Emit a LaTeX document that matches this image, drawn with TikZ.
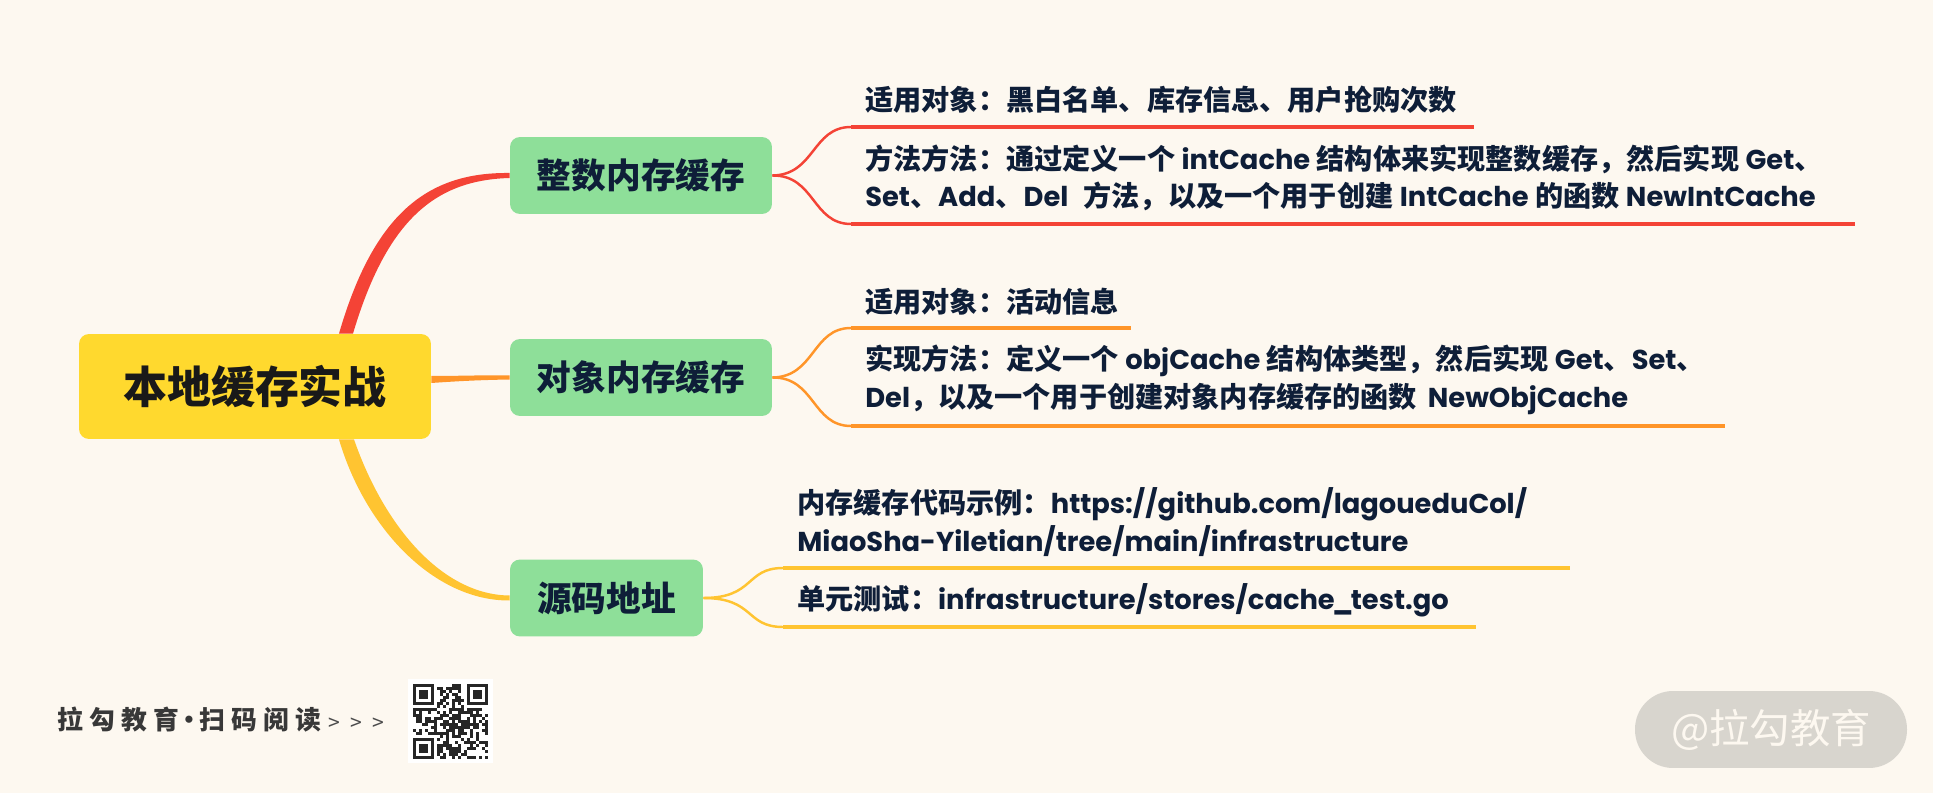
\documentclass[tikz,border=0pt]{standalone}
\usepackage{fontspec}
\setmainfont{Noto Sans CJK SC}
\newfontfamily\latfont{Poppins}[Scale=0.97]
\newcommand{\lat}[1]{{\latfont\bfseries #1}}
\definecolor{pagebg}{HTML}{FDF8F0}
\definecolor{rootfill}{HTML}{FFD92E}
\definecolor{topicfill}{HTML}{8EDF99}
\definecolor{inktext}{HTML}{0E1E38}
\definecolor{redline}{HTML}{F44336}
\definecolor{orangeline}{HTML}{FF9529}
\definecolor{yellowline}{HTML}{FFC431}
\definecolor{badgefill}{HTML}{D8D5CE}
\tikzset{
    rootbox/.style={fill=rootfill,rounded corners=0.2cm,minimum width=7.04cm,minimum height=2.1cm,font=\fontsize{25}{30}\selectfont\bfseries,text=black!90},
    topicbox/.style={fill=topicfill,rounded corners=0.2cm,minimum width=5.24cm,minimum height=1.54cm,font=\fontsize{19.75}{24}\selectfont\bfseries,text=inktext},
    leaftext/.style={anchor=west,inner sep=0pt,align=left,font=\fontsize{16.03}{21.5}\selectfont\bfseries,text=inktext},
    twig/.style={line width=1.4pt},
    under/.style={line width=2pt}
}
\begin{document}
\begin{tikzpicture}[x=0.02cm,y=-0.02cm]
    \useasboundingbox (0,0) rectangle (1933,793);
    \fill[pagebg] (0,0) rectangle (1933,793);

    \node[rootbox] (root) at (255,386.5) {本地缓存实战};
    \node[topicbox] (int) at (641,175.5) {整数内存缓存};
    \node[topicbox] (obj) at (641,377.5) {对象内存缓存};
    \node[topicbox,minimum width=3.86cm] (src) at (606.5,598) {源码地址};

    \node[leaftext] (int1) at (865,100) {适用对象：黑白名单、库存信息、用户抢购次数};
    \node[leaftext] (int2) at (865,178) {方法方法：通过定义一个 \lat{intCache} 结构体来实现整数缓存，然后实现 \lat{Get}、\\\lat{Set}、\lat{Add}、\lat{Del}\kern5pt{} 方法，以及一个用于创建 \lat{IntCache} 的函数 \lat{NewIntCache}};
    \node[leaftext] (obj1) at (865,302) {适用对象：活动信息};
    \node[leaftext] (obj2) at (865,379.5) {实现方法：定义一个 \lat{objCache} 结构体类型，然后实现 \lat{Get}、\lat{Set}、\\\lat{Del}，以及一个用于创建对象内存缓存的函数\kern2.5pt{} \lat{NewObjCache}};
    \node[leaftext] (src1) at (797,522) {内存缓存代码示例：\lat{https://github.com/lagoueduCol/}\\\lat{MiaoSha-Yiletian/tree/main/infrastructure}};
    \node[leaftext] (src2) at (797,600) {单元测试：\lat{infrastructure/stores/cache\kern-1.5pt\_\kern-1.5pt test.go}};

    \coordinate (int1a) at (851,127);
    \coordinate (int1b) at (1474,127);
    \coordinate (int2a) at (851,224);
    \coordinate (int2b) at (1855,224);
    \coordinate (obj1a) at (851,328);
    \coordinate (obj1b) at (1131,328);
    \coordinate (obj2a) at (851,426);
    \coordinate (obj2b) at (1725,426);
    \coordinate (src1a) at (783,568);
    \coordinate (src1b) at (1570,568);
    \coordinate (src2a) at (783,627);
    \coordinate (src2b) at (1476,627);

    \fill[redline] ([xshift=1.68cm]root.north) .. controls (374,213) and (428,172) .. ([yshift=0.05cm]int.west)
        -- ([yshift=-0.05cm]int.west) .. controls (436,180) and (387,219) .. ([xshift=1.96cm]root.north) -- cycle;
    \fill[orangeline] ([yshift=0.21cm]root.east) .. controls (460,376) and (480,375) .. ([yshift=0.04cm]obj.west)
        -- ([yshift=-0.04cm]obj.west) .. controls (480,380) and (460,381) .. ([yshift=0.07cm]root.east) -- cycle;
    \fill[yellowline] ([xshift=1.68cm]root.south) .. controls (365,528) and (434,601) .. ([yshift=-0.05cm]src.west)
        -- ([yshift=0.05cm]src.west) .. controls (442,595) and (384,526) .. ([xshift=1.98cm]root.south) -- cycle;

    \path[draw=redline,twig] (int.east) .. controls (815,175) and (812,127) .. (int1a);
    \path[draw=redline,under] (int1a) -- (int1b);
    \path[draw=redline,twig] (int.east) .. controls (815,175) and (812,224) .. (int2a);
    \path[draw=redline,under] (int2a) -- (int2b);
    \path[draw=orangeline,twig] (obj.east) .. controls (815,377) and (812,328) .. (obj1a);
    \path[draw=orangeline,under] (obj1a) -- (obj1b);
    \path[draw=orangeline,twig] (obj.east) .. controls (815,377) and (812,426) .. (obj2a);
    \path[draw=orangeline,under] (obj2a) -- (obj2b);
    \path[draw=yellowline,twig] (src.east) .. controls (755,598) and (745,568) .. (src1a);
    \path[draw=yellowline,under] (src1a) -- (src1b);
    \path[draw=yellowline,twig] (src.east) .. controls (755,598) and (745,627) .. (src2a);
    \path[draw=yellowline,under] (src2a) -- (src2b);

    \node[anchor=west,inner sep=0pt,font=\fontsize{14.7}{18}\selectfont\bfseries,text=black!78] (logo) at (57,720)
        {\addfontfeature{LetterSpace=24}拉勾教育\kern-0.1em·\kern-0.1em 扫码阅读};
    \node[anchor=west,inner sep=0pt,font=\fontsize{12}{14}\selectfont,text=black!70] (more) at (328,724)
        {>\kern0.5em>\kern0.5em>};

    \fill[white] (408,679) rectangle (493,763);
    \pgfmathsetseed{29}
    \foreach \i in {0,...,24}
        \foreach \j in {0,...,24} {
            \pgfmathsetmacro{\cell}{rnd}
            \pgfmathparse{((\i<8 && \j<8) || (\i>16 && \j<8) || (\i<8 && \j>16)) ? 0 : (\cell>0.47 ? 1 : 0)}
            \ifnum\pgfmathresult>0
                \fill[black!85] (413+\i*3,684+\j*3) rectangle ++(3,3);
            \fi
        }
    \foreach \px/\py in {413/684,467/684,413/738} {
        \draw[black!85,line width=1.7pt] (\px+1.5,\py+1.5) rectangle ++(18,18);
        \fill[black!85] (\px+6,\py+6) rectangle ++(9,9);
    }

    \node[fill=badgefill,rounded corners=0.76cm,minimum width=5.44cm,minimum height=1.54cm,font=\fontsize{23}{26}\selectfont,text=pagebg] (badge) at (1771,729.5) {@拉勾教育};
\end{tikzpicture}
\end{document}
